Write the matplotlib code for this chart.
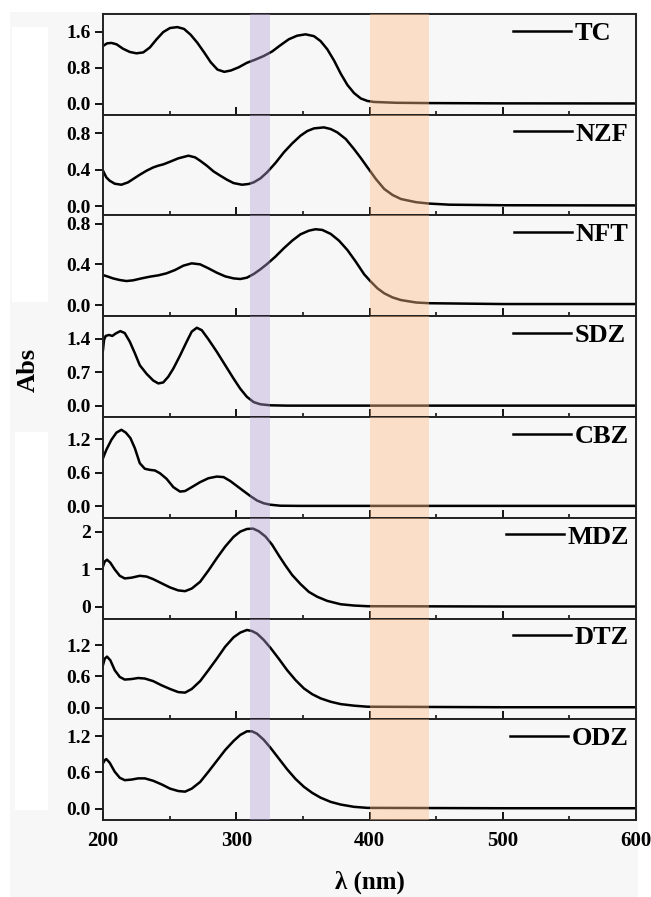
import numpy as np
import matplotlib
matplotlib.use("Agg")
import matplotlib.pyplot as plt
from matplotlib.patches import Rectangle
from matplotlib.ticker import MultipleLocator

plt.rcParams['font.family'] = ['Liberation Serif', 'DejaVu Serif']
plt.rcParams['font.weight'] = 'bold'

# UV-vis spectra, wavelength (nm) / absorbance
names = ["TC", "NZF", "NFT", "SDZ", "CBZ", "MDZ", "DTZ", "ODZ"]

tc_wl = [200, 203, 206.3, 210.1, 215.1, 220.1, 225.1, 230.2, 235.2, 240.2, 245.2, 250.3, 255.8, 260.8,
         265.8, 270.9, 275.9, 280.9, 285.9, 291, 296, 301.8, 308, 314.3, 320.6, 326.9, 333.2, 339.4,
         345.7, 352, 358.3, 363.3, 368.3, 373.4, 378.4, 383.4, 388.4, 393.5, 398.5, 403.5, 420, 445,
         500, 600]
tc_abs = [1.28, 1.34, 1.35, 1.32, 1.22, 1.15, 1.12, 1.14, 1.25, 1.43, 1.59, 1.68, 1.70, 1.66,
          1.53, 1.35, 1.14, 0.92, 0.76, 0.71, 0.74, 0.81, 0.91, 0.98, 1.06, 1.16, 1.30, 1.43,
          1.51, 1.54, 1.50, 1.39, 1.21, 0.96, 0.67, 0.42, 0.24, 0.12, 0.065, 0.043, 0.025, 0.018,
          0.012, 0.01]

nzf_wl = [200, 202.5, 205, 208.8, 213.8, 218.8, 222.6, 227.6, 232.7, 237.7, 241.5, 245.2, 250.3, 256.5,
          264.1, 269.1, 272.9, 277.9, 282.9, 288, 293, 298, 304.3, 309.3, 313.1, 318.1, 323.1, 329.4,
          335.7, 342, 348.2, 353.3, 358.3, 365.8, 370.9, 375.9, 382.2, 388.4, 393.5, 398.5, 404.8,
          411.1, 417.3, 423.6, 435, 445, 460, 500, 600]
nzf_abs = [0.389, 0.316, 0.280, 0.247, 0.236, 0.262, 0.298, 0.345, 0.389, 0.425, 0.444, 0.458, 0.487,
           0.524, 0.553, 0.535, 0.498, 0.444, 0.382, 0.335, 0.291, 0.254, 0.236, 0.244, 0.262, 0.305,
           0.371, 0.473, 0.589, 0.687, 0.771, 0.822, 0.851, 0.862, 0.844, 0.807, 0.735, 0.625, 0.527,
           0.425, 0.298, 0.189, 0.124, 0.080, 0.045, 0.030, 0.018, 0.012, 0.01]

nft_wl = [200, 203.8, 207.5, 212.6, 217.6, 222.6, 228.9, 235.2, 241.5, 247.7, 254, 260.3, 266.6, 272.9,
          279.1, 285.4, 291.7, 298, 303, 308, 313.1, 318.1, 323.1, 329.4, 335.7, 342, 348.2, 354.5,
          359.5, 364.6, 370.9, 377.1, 383.4, 389.7, 396, 401, 406, 411.1, 417.3, 423.6, 435, 445,
          500, 600]
nft_abs = [0.295, 0.279, 0.262, 0.246, 0.236, 0.243, 0.262, 0.279, 0.292, 0.312, 0.344, 0.387, 0.410,
           0.400, 0.361, 0.318, 0.282, 0.262, 0.256, 0.269, 0.305, 0.351, 0.403, 0.476, 0.558, 0.633,
           0.695, 0.731, 0.745, 0.738, 0.699, 0.633, 0.541, 0.426, 0.302, 0.230, 0.164, 0.115, 0.075,
           0.049, 0.025, 0.018, 0.01, 0.01]

sdz_wl = [200, 200.8, 202, 204.5, 207, 209.5, 213, 216.3, 220.1, 223.9, 227.6, 232.7, 237.7, 241.5,
          245.2, 249, 252.8, 257.8, 262.8, 266.6, 270.4, 274.1, 279.1, 285.4, 291.7, 298, 303, 308,
          313.1, 318.1, 325.6, 338, 400, 500, 600]
sdz_abs = [1.17, 1.38, 1.46, 1.48, 1.46, 1.51, 1.56, 1.52, 1.34, 1.10, 0.85, 0.67, 0.53, 0.47,
           0.49, 0.61, 0.78, 1.05, 1.34, 1.55, 1.63, 1.58, 1.39, 1.13, 0.85, 0.57, 0.36, 0.19,
           0.08, 0.035, 0.014, 0.007, 0.007, 0.007, 0.007]

cbz_wl = [200, 202.5, 206.3, 210.1, 213.8, 217.1, 220.6, 223.9, 227.6, 231.4, 235.2, 238.9, 242.7,
          247.7, 252.8, 257.8, 261.6, 266.6, 272.9, 279.1, 285.4, 290.5, 295.5, 300.5, 305.5, 310.6,
          315.6, 320.6, 325.6, 333.2, 348, 400, 500, 600]
cbz_abs = [0.86, 1.01, 1.19, 1.32, 1.37, 1.32, 1.22, 1.04, 0.77, 0.67, 0.65, 0.64, 0.59,
           0.49, 0.34, 0.26, 0.27, 0.34, 0.43, 0.50, 0.53, 0.52, 0.45, 0.36, 0.27, 0.18,
           0.10, 0.05, 0.024, 0.006, 0.003, 0.003, 0.003, 0.003]

mdz_wl = [200, 201.3, 203, 205.5, 208.8, 212.6, 216.3, 221.4, 227.6, 232.7, 237.7, 244, 250.3, 256.5,
          261.6, 266.6, 272.9, 279.1, 285.4, 291.7, 298, 303, 308, 312.6, 316.9, 321.9, 326.9, 332,
          337, 342, 348.2, 354.5, 360.8, 368.3, 378.4, 388.4, 398.5, 500, 600]
mdz_abs = [1.08, 1.21, 1.26, 1.18, 1.00, 0.83, 0.76, 0.78, 0.83, 0.81, 0.74, 0.63, 0.52, 0.44,
           0.42, 0.49, 0.67, 0.97, 1.30, 1.61, 1.87, 2.01, 2.08, 2.09, 2.02, 1.88, 1.66, 1.37,
           1.10, 0.85, 0.61, 0.40, 0.27, 0.16, 0.07, 0.036, 0.018, 0.01, 0.01]

dtz_wl = [200, 201.3, 203, 205.5, 208.8, 212.6, 216.3, 221.4, 226.4, 231.4, 237.7, 244, 250.3, 256.5,
          261.6, 266.6, 272.9, 279.1, 285.4, 291.7, 298, 303, 308, 311.8, 315.6, 320.6, 325.6, 331.9,
          338.2, 344.5, 350.8, 357, 363.3, 370.9, 378.4, 388.4, 398.5, 500, 600]
dtz_abs = [0.82, 0.94, 0.98, 0.91, 0.72, 0.59, 0.54, 0.55, 0.57, 0.56, 0.51, 0.43, 0.36, 0.30,
           0.29, 0.36, 0.51, 0.72, 0.94, 1.17, 1.35, 1.44, 1.49, 1.47, 1.42, 1.30, 1.15, 0.94,
           0.72, 0.53, 0.37, 0.26, 0.18, 0.115, 0.07, 0.04, 0.02, 0.01, 0.01]

odz_wl = [200, 201.3, 202.5, 205, 208.8, 212.6, 216.3, 221.4, 226.4, 231.4, 237.7, 244, 250.3, 256.5,
          261.6, 266.6, 272.9, 279.1, 285.4, 291.7, 298, 303, 308, 311.8, 315.6, 320.6, 325.6, 331.9,
          338.2, 344.5, 350.8, 357, 363.3, 370.9, 378.4, 388.4, 398.5, 500, 600]
odz_abs = [0.75, 0.80, 0.82, 0.76, 0.61, 0.51, 0.47, 0.48, 0.50, 0.50, 0.46, 0.40, 0.33, 0.29,
           0.28, 0.33, 0.44, 0.61, 0.79, 0.97, 1.12, 1.22, 1.28, 1.28, 1.24, 1.14, 1.01, 0.83,
           0.65, 0.49, 0.36, 0.26, 0.18, 0.11, 0.066, 0.028, 0.011, 0.005, 0.005]

spectra = [(tc_wl, tc_abs), (nzf_wl, nzf_abs), (nft_wl, nft_abs), (sdz_wl, sdz_abs),
           (cbz_wl, cbz_abs), (mdz_wl, mdz_abs), (dtz_wl, dtz_abs), (odz_wl, odz_abs)]

ylims = [(-0.24, 1.99), (-0.10, 1.0), (-0.11, 0.88), (-0.23, 1.87),
         (-0.21, 1.60), (-0.31, 2.38), (-0.22, 1.71), (-0.19, 1.48)]

yticks = [[0, 0.8, 1.6], [0, 0.4, 0.8], [0, 0.4, 0.8], [0, 0.7, 1.4],
          [0, 0.6, 1.2], [0, 1, 2], [0, 0.6, 1.2], [0, 0.6, 1.2]]
ytick_labels = [["0.0", "0.8", "1.6"], ["0.0", "0.4", "0.8"], ["0.0", "0.4", "0.8"], ["0.0", "0.7", "1.4"],
                ["0.0", "0.6", "1.2"], ["0", "1", "2"], ["0.0", "0.6", "1.2"], ["0.0", "0.6", "1.2"]]

purple_band = (310, 325)
orange_band = (400, 445)

BG = '#f7f7f7'
W, H = 651, 897

# left edge of each legend handle (axes fraction)
legend_x = [0.769, 0.771, 0.771, 0.769, 0.769, 0.756, 0.769, 0.763]

fig, axes = plt.subplots(8, 1, sharex=True, figsize=(W / 100, H / 100), dpi=100,
                         gridspec_kw=dict(hspace=0))
fig.subplots_adjust(left=103 / W, right=636 / W, top=1 - 14 / H, bottom=1 - 820 / H)
fig.patch.set_facecolor('white')

# grey backdrop with the two white strips on the left
fig.patches.append(Rectangle((10 / W, 0), (638 - 10) / W, 1 - 12 / H, transform=fig.transFigure,
                             facecolor=BG, edgecolor='none', zorder=-10))
fig.patches.append(Rectangle((12 / W, 1 - 302 / H), 36 / W, 275 / H, transform=fig.transFigure,
                             facecolor='white', edgecolor='none', zorder=-9))
fig.patches.append(Rectangle((15 / W, 1 - 810 / H), 33 / W, 378 / H, transform=fig.transFigure,
                             facecolor='white', edgecolor='none', zorder=-9))

for i, ax in enumerate(axes):
    wl, ab = spectra[i]
    ax.set_facecolor(BG)
    ax.plot(wl, ab, color='black', lw=1.8, solid_joinstyle='round', label=names[i])

    ax.axvspan(*purple_band, color=(180 / 255, 160 / 255, 210 / 255), alpha=0.4, lw=0, zorder=3)
    ax.axvspan(*orange_band, color=(1.0, 188 / 255, 135 / 255), alpha=0.42, lw=0, zorder=3)

    ax.set_xlim(200, 600)
    ax.set_ylim(*ylims[i])
    ax.set_yticks(yticks[i])
    ax.set_yticklabels(ytick_labels[i])

    ax.xaxis.set_major_locator(MultipleLocator(100))
    ax.xaxis.set_minor_locator(MultipleLocator(50))
    ax.tick_params(axis='x', which='major', direction='in', length=6, width=1.3,
                   top=False, labelsize=15, pad=8)
    ax.tick_params(axis='x', which='minor', direction='in', length=3, width=1.1, top=False)
    ax.tick_params(axis='y', direction='out', length=6, width=1.3, right=False,
                   labelsize=14, pad=3)
    ax.yaxis.set_minor_locator(plt.NullLocator())
    for s in ax.spines.values():
        s.set_linewidth(1.4)
        s.set_color('#222222')

    ax.legend(loc='center left', bbox_to_anchor=(legend_x[i], 0.81), frameon=False,
              handlelength=2.2, handletextpad=0.15, borderpad=0, borderaxespad=0,
              prop=dict(size=19, weight='bold'))

for ax in axes[:-1]:
    ax.tick_params(axis='x', labelbottom=False)

fig.text(28 / W, 1 - 370 / H, 'Abs', rotation=90, ha='center', va='center',
         fontsize=19, fontweight='bold')
fig.text(370 / W, 1 - 882 / H, 'λ (nm)', ha='center', va='center',
         fontsize=18, fontweight='bold')

fig.savefig('out.png', dpi=100, facecolor=fig.get_facecolor())
